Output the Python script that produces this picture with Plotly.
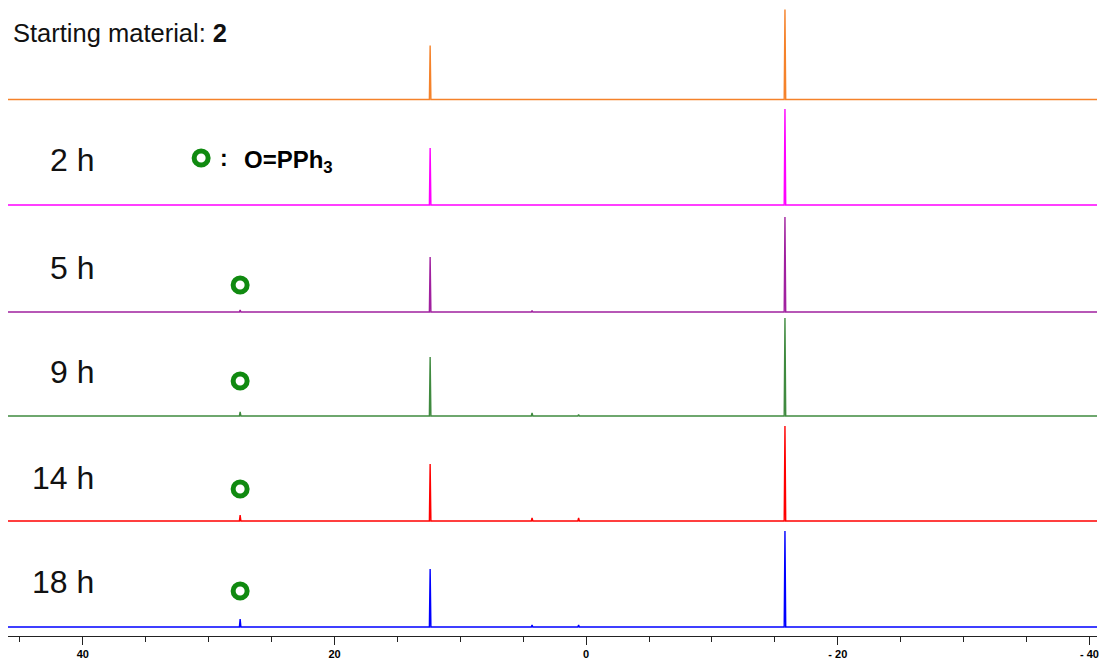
import plotly.graph_objects as go

# ---- data ----
spectra = ["Starting material", "2 h", "5 h", "9 h", "14 h", "18 h"]
colors = ["#F5822A", "#FF00FF", "#A0209F", "#3F8A3F", "#FF0000", "#0000FF"]

# peak positions (ppm)
peak_ppm = [27.5, 12.4, 4.3, 0.6, -15.8]
# peak intensities per spectrum (same order as peak_ppm)
intens_sm = [0, 54, 0, 0, 90]
intens_2h = [0, 57, 0, 0, 96]
intens_5h = [2, 55, 1.5, 0, 95]
intens_9h = [4, 59, 3, 1.5, 98]
intens_14h = [6, 57, 3, 3, 95]
intens_18h = [8, 58, 2, 2, 96]
intensities = [intens_sm, intens_2h, intens_5h, intens_9h, intens_14h, intens_18h]

time_labels = ["2 h", "5 h", "9 h", "14 h", "18 h"]

tick_vals = [40, 20, 0, -20, -40]
tick_text = ["40", "20", "0", "- 20", "- 40"]

# ---- layout constants ----
X_LEFT, X_RIGHT = 45.95, -40.6
FIG_W, FIG_H = 1099, 664
PLOT_L, PLOT_R = 8, 1097
PLOT_H = 636
baseline_px = [99.5, 205, 312, 416, 521, 627]   # baseline rows (page y)
offsets = [PLOT_H - b for b in baseline_px]
HALF_W = 0.06


def yv(page_y):
    return PLOT_H - page_y


def px(page_x):
    return (page_x - PLOT_L) / (PLOT_R - PLOT_L)


fig = go.Figure()
for name, col, ints, off in zip(spectra, colors, intensities, offsets):
    xs = [X_LEFT]
    ys = [off]
    for p, h in sorted(zip(peak_ppm, ints), key=lambda t: -t[0]):
        if h <= 0:
            continue
        xs += [p + HALF_W, p, p - HALF_W]
        ys += [off, off + h, off]
    xs.append(X_RIGHT)
    ys.append(off)
    fig.add_trace(go.Scatter(x=xs, y=ys, mode="lines", line=dict(color=col, width=1.4),
                             name=name, showlegend=False, hoverinfo="skip"))

GREEN = "#108A10"
circ_y = [yv(285), yv(381), yv(489), yv(591)]
fig.add_trace(go.Scatter(x=[peak_ppm[0]] * len(circ_y), y=circ_y, mode="markers",
                         marker=dict(symbol="circle-open", size=14, color=GREEN,
                                     line=dict(width=5, color=GREEN)),
                         showlegend=False, hoverinfo="skip"))
fig.add_trace(go.Scatter(x=[30.6], y=[yv(158)], mode="markers",
                         marker=dict(symbol="circle-open", size=14, color=GREEN,
                                     line=dict(width=5, color=GREEN)),
                         showlegend=False, hoverinfo="skip"))

FONT = "Liberation Sans, Arial"
annotations = [
    dict(text="Starting material: <b>2</b>", xref="paper", yref="y", x=px(11), y=yv(33),
         xanchor="left", yanchor="middle", showarrow=False,
         font=dict(family=FONT, size=25.5, color="#111111")),
    dict(text=":", xref="paper", yref="y", x=px(218), y=yv(158),
         xanchor="left", yanchor="middle", showarrow=False,
         font=dict(family=FONT, size=23, color="#000000", weight="bold")),
    dict(text="O=PPh<sub>3</sub>", xref="paper", yref="y", x=px(242), y=yv(161),
         xanchor="left", yanchor="middle", showarrow=False,
         font=dict(family=FONT, size=24, color="#000000", weight="bold")),
]
label_y = [160, 268, 372, 478, 582]
for t, yy in zip(time_labels, label_y):
    annotations.append(dict(text=t, xref="paper", yref="y", x=px(96), y=yv(yy),
                            xanchor="right", yanchor="middle", showarrow=False,
                            font=dict(family=FONT, size=32, color="#111111")))

fig.update_layout(
    width=FIG_W, height=FIG_H,
    margin=dict(l=PLOT_L, r=FIG_W - PLOT_R, t=0, b=FIG_H - PLOT_H, pad=0),
    paper_bgcolor="white", plot_bgcolor="white",
    annotations=annotations,
    xaxis=dict(range=[X_LEFT, X_RIGHT], showgrid=False, zeroline=False,
               showline=True, linecolor="#222222", linewidth=1,
               tickvals=tick_vals, ticktext=tick_text, ticks="outside", ticklen=8,
               tickcolor="#222222", tickwidth=1, ticklabeloverflow="allow",
               tickfont=dict(family=FONT, size=11, color="#000000", weight="bold"),
               minor=dict(dtick=5, tick0=0, ticks="outside", ticklen=5, tickcolor="#222222"),
               fixedrange=True),
    yaxis=dict(range=[0, PLOT_H], visible=False, fixedrange=True),
)

fig.write_html("out.html", config={"displayModeBar": False},
               post_script="document.body.style.margin='0';document.body.style.overflow='hidden';")
